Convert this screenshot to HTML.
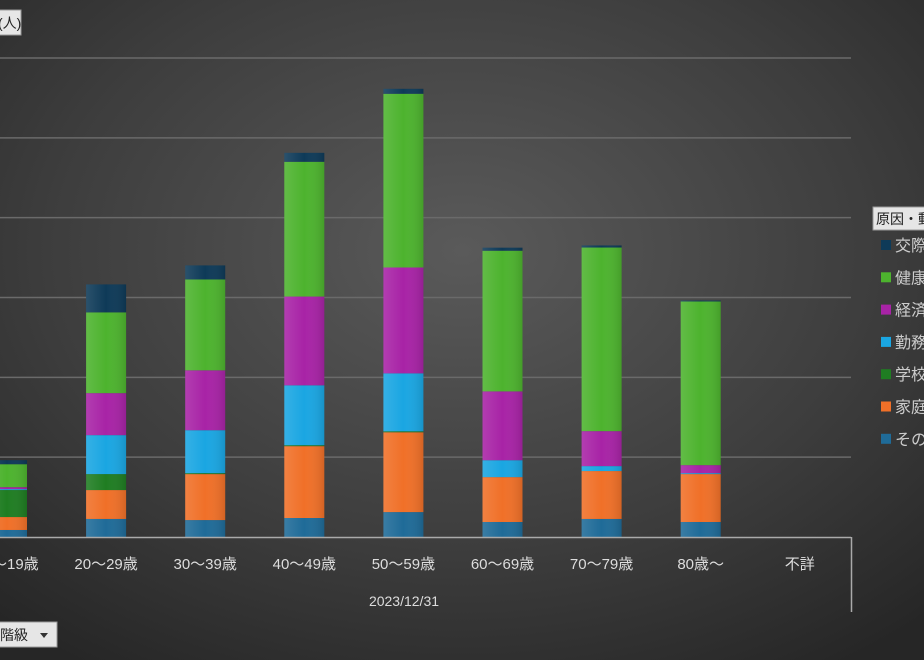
<!DOCTYPE html>
<html><head><meta charset="utf-8">
<style>
html,body{margin:0;padding:0;width:924px;height:660px;overflow:hidden;background:#333;}
svg text{font-family:"Liberation Sans","Noto Sans CJK JP",sans-serif;}
</style></head>
<body>
<svg id="chart" width="924" height="660" viewBox="0 0 924 660" xmlns="http://www.w3.org/2000/svg">
<defs>
<radialGradient id="bg" cx="0.5" cy="0.38" r="0.75">
<stop offset="0" stop-color="#5a5a5a"/><stop offset="0.6" stop-color="#3d3d3d"/><stop offset="1" stop-color="#262626"/>
</radialGradient>
<linearGradient id="shade" x1="0" x2="1" y1="0" y2="0">
<stop offset="0" stop-color="#fff" stop-opacity="0.12"/><stop offset="0.5" stop-color="#fff" stop-opacity="0"/><stop offset="1" stop-color="#000" stop-opacity="0.12"/>
</linearGradient>
</defs>
<rect x="0" y="0" width="924" height="660" fill="url(#bg)"/>
<g id="grid"></g>
<g id="bars"></g>
<g id="xlabels"></g>
<line x1="0" y1="537.5" x2="851" y2="537.5" stroke="#aaa" stroke-width="1.5"/>
<line x1="851.5" y1="537" x2="851.5" y2="612" stroke="#aaa" stroke-width="1.5"/>
<text x="404" y="606" fill="#ddd" font-size="14" text-anchor="middle">2023/12/31</text>
<g>
<rect x="-30" y="10" width="51" height="25" fill="#e6e6e6" stroke="#999"/>
<text x="-2" y="28" font-size="14" fill="#222">(人)</text>
</g>
<g>
<rect x="-40" y="622" width="97" height="25" fill="#e6e6e6" stroke="#999"/>
<text x="-28" y="640" font-size="14" fill="#222">年齢階級</text>
<path d="M40 633 L48 633 L44 638 Z" fill="#333"/>
</g>
<g>
<g>
<rect x="873" y="207" width="80" height="23" fill="#e6e6e6" stroke="#999"/>
<text x="876" y="224" font-size="14" fill="#222">原因・動機</text>
</g>
<g id="legend-items"></g>
</g>
</svg>
<script>
const categories = ["10〜19歳","20〜29歳","30〜39歳","40〜49歳","50〜59歳","60〜69歳","70〜79歳","80歳〜","不詳"];
const seriesNames = ["その他","家庭問題","学校問題","勤務問題","経済・生活問題","健康問題","交際問題"];
const seriesColors = ["#1f6b98","#f07028","#1f7d22","#1aa6e2","#a823a6","#4db32e","#0e3a58"];
const sonota  = [44,113,106,119,156,94,113,94,0];
const katei   = [81,181,288,450,500,281,300,300,0];
const gakkou  = [169,100,6,6,6,0,0,0,0];
const kinmu   = [6,244,269,375,363,106,31,6,0];
const keizai  = [12,263,375,556,663,431,219,50,0];
const kenkou  = [144,506,569,844,1088,881,1150,1025,0];
const kousai  = [25,175,88,56,31,19,13,6,0];
const yTicks = [0,500,1000,1500,2000,2500,3000];
const series = [sonota,katei,gakkou,kinmu,keizai,kenkou,kousai];

const NS="http://www.w3.org/2000/svg";
const baseY=537, topY=58, yMax=3000;
function yScale(v){return baseY-(v/yMax)*(baseY-topY);}
function xScale(i){return 7+i*99.1;}
const barW=40;

const grid=document.getElementById('grid');
yTicks.forEach(t=>{
  if(t===0) return;
  const l=document.createElementNS(NS,'line');
  
  
  const y=yScale(t);
  l.setAttribute('x1',0);l.setAttribute('x2',851);l.setAttribute('y1',y);l.setAttribute('y2',y);
  l.setAttribute('stroke','#6a6a6a');l.setAttribute('stroke-width','1.5');
  grid.appendChild(l);
});

const bars=document.getElementById('bars');
categories.forEach((c,i)=>{
  let acc=0;
  const g=document.createElementNS(NS,'g');
  
  
  series.forEach((s,k)=>{
    const v=s[i]; if(!v) {return;}
    const y0=yScale(acc), y1=yScale(acc+v);
    acc+=v;
    const r=document.createElementNS(NS,'rect');
    
    
    r.setAttribute('x',xScale(i)-barW/2);r.setAttribute('width',barW);
    r.setAttribute('y',y1);r.setAttribute('height',y0-y1);
    r.setAttribute('fill',seriesColors[k]);
    g.appendChild(r);
    const sh=document.createElementNS(NS,'rect');
    
    
    sh.setAttribute('x',xScale(i)-barW/2);sh.setAttribute('width',barW);
    sh.setAttribute('y',y1);sh.setAttribute('height',y0-y1);
    sh.setAttribute('fill','url(#shade)');
    g.appendChild(sh);
  });
  bars.appendChild(g);
  const t=document.createElementNS(NS,'text');
  
  
  t.setAttribute('x',xScale(i));t.setAttribute('y',569);
  t.setAttribute('text-anchor','middle');t.setAttribute('font-size','15');t.setAttribute('fill','#ddd');
  t.textContent=c;
  document.getElementById('xlabels').appendChild(t);
});

const leg=document.getElementById('legend-items');
const legOrder=[6,5,4,3,2,1,0];
legOrder.forEach((k,j)=>{
  const y=245+j*32.3;
  const r=document.createElementNS(NS,'rect');
  
  
  r.setAttribute('x',881);r.setAttribute('y',y-5);r.setAttribute('width',10);r.setAttribute('height',10);
  r.setAttribute('fill',seriesColors[k]);
  leg.appendChild(r);
  const t=document.createElementNS(NS,'text');
  
  
  t.setAttribute('x',895);t.setAttribute('y',y+6);t.setAttribute('font-size','16');t.setAttribute('fill','#ccc');
  t.textContent=seriesNames[k];
  leg.appendChild(t);
});
</script>
</body></html>
